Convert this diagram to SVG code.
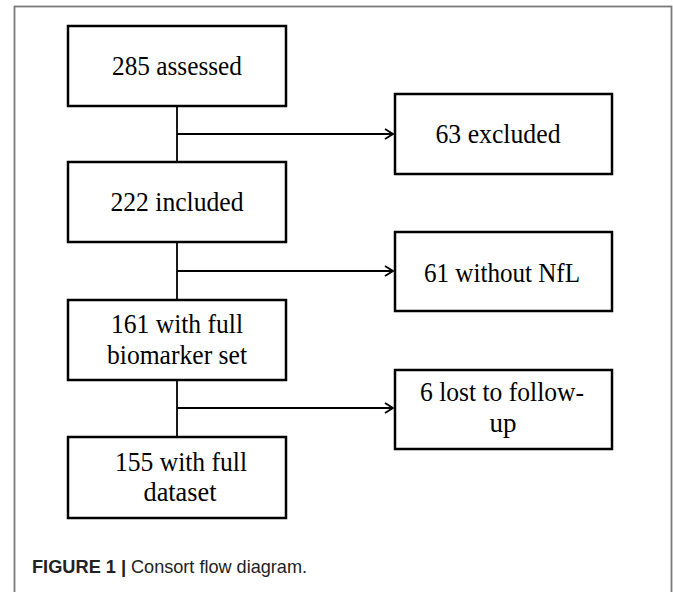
<svg xmlns="http://www.w3.org/2000/svg" width="673" height="592" viewBox="0 0 673 592">
<defs>
<style>
.box{fill:#fff;stroke:#000;stroke-width:2.5}
.t{font-family:"Liberation Serif","Times New Roman",serif;font-size:27px;fill:#000;text-anchor:middle}
.c{fill:none;stroke:#000;stroke-width:1.8}
.cap{font-family:"Liberation Sans",Arial,sans-serif;font-size:18.5px;fill:#222}
</style>
<marker id="arr" viewBox="0 0 10 12" refX="9" refY="6" markerWidth="10" markerHeight="12" markerUnits="userSpaceOnUse" orient="auto">
<path d="M1,1 L9,6 L1,11" fill="none" stroke="#000" stroke-width="1.8"/>
</marker>
</defs>
<rect x="0" y="0" width="673" height="592" fill="#fff"/>
<rect x="14.5" y="6.5" width="657" height="620" fill="none" stroke="#7a7a7a" stroke-width="1.8"/>
<g id="connectors">
<line class="c" x1="177" y1="106" x2="177" y2="162"/>
<line class="c" x1="177" y1="134" x2="393" y2="134" marker-end="url(#arr)"/>
<line class="c" x1="177" y1="242" x2="177" y2="300"/>
<line class="c" x1="177" y1="271" x2="393" y2="271" marker-end="url(#arr)"/>
<line class="c" x1="177" y1="380" x2="177" y2="437"/>
<line class="c" x1="177" y1="408" x2="393" y2="408" marker-end="url(#arr)"/>
</g>
<g id="n285">
<rect class="box" x="68" y="26" width="218" height="80"/>
<text class="t" x="177" y="75" textLength="130" lengthAdjust="spacingAndGlyphs">285 assessed</text>
</g>
<g id="n63">
<rect class="box" x="395" y="94" width="217" height="80"/>
<text class="t" x="498" y="143" textLength="125" lengthAdjust="spacingAndGlyphs">63 excluded</text>
</g>
<g id="n222">
<rect class="box" x="68" y="162" width="218" height="80"/>
<text class="t" x="177" y="211" textLength="133" lengthAdjust="spacingAndGlyphs">222 included</text>
</g>
<g id="n61">
<rect class="box" x="395" y="232" width="217" height="79"/>
<text class="t" x="502" y="282" textLength="156" lengthAdjust="spacingAndGlyphs">61 without NfL</text>
</g>
<g id="n161">
<rect class="box" x="68" y="300" width="218" height="80"/>
<text class="t" x="177" y="333" textLength="132" lengthAdjust="spacingAndGlyphs">161 with full</text>
<text class="t" x="177" y="364" textLength="140" lengthAdjust="spacingAndGlyphs">biomarker set</text>
</g>
<g id="n6">
<rect class="box" x="395" y="370" width="217" height="79"/>
<text class="t" x="502" y="401" textLength="164" lengthAdjust="spacingAndGlyphs">6 lost to follow-</text>
<text class="t" x="503" y="432" textLength="27" lengthAdjust="spacingAndGlyphs">up</text>
</g>
<g id="n155">
<rect class="box" x="68" y="437" width="218" height="81"/>
<text class="t" x="181" y="471" textLength="132" lengthAdjust="spacingAndGlyphs">155 with full</text>
<text class="t" x="180" y="501" textLength="73" lengthAdjust="spacingAndGlyphs">dataset</text>
</g>
<text class="cap" x="32" y="573"><tspan font-weight="bold" textLength="84" lengthAdjust="spacingAndGlyphs">FIGURE 1</tspan><tspan x="121" font-weight="bold">|</tspan><tspan x="131" textLength="176" lengthAdjust="spacingAndGlyphs">Consort flow diagram.</tspan></text>
</svg>
